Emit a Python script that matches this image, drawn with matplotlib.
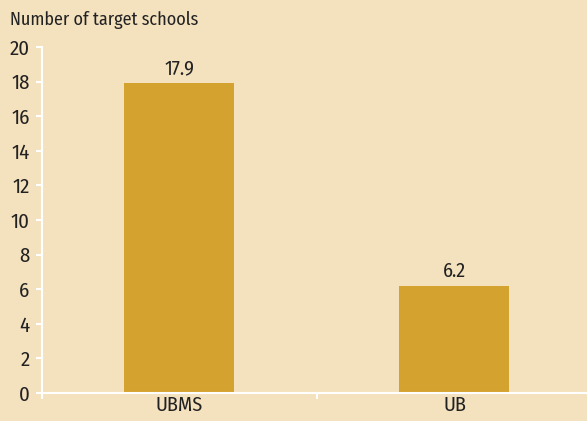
import matplotlib.pyplot as plt

categories = ["UBMS", "UB"]
values = [17.9, 6.2]
value_labels = ["17.9", "6.2"]
y_ticks = [0, 2, 4, 6, 8, 10, 12, 14, 16, 18, 20]

plt.rcParams["font.family"] = ["Fira Sans Condensed", "DejaVu Sans"]

bg = "#F4E1BE"
bar_color = "#D4A22F"
txt = "#222222"

fig = plt.figure(figsize=(5.87, 4.21), dpi=100, facecolor=bg)
ax = fig.add_axes([42 / 587, (421 - 393) / 421, 550 / 587, 346 / 421])
ax.set_facecolor(bg)

pos = [0.5, 1.5]
ax.bar(pos, values, width=0.4, color=bar_color)
for p, v, lab in zip(pos, values, value_labels):
    ax.text(p, v + 0.3, lab, ha="center", va="bottom", fontsize=14.5, color=txt)

ax.set_xlim(0, 2)
ax.set_ylim(0, 20)
ax.set_yticks(y_ticks)
ax.set_yticklabels([str(t) for t in y_ticks], fontsize=15, color=txt)
ax.set_xticks([0, 1, 2])
ax.set_xticklabels([])
ax.set_xticks(pos, minor=True)
ax.set_xticklabels(categories, minor=True, fontsize=14.5, color=txt)
ax.tick_params(axis="x", which="minor", length=0, pad=2)
ax.tick_params(axis="x", which="major", length=4, width=1.5, color="white")
ax.tick_params(axis="y", length=4, width=1.5, color="white", pad=5)

for s in ["top", "right"]:
    ax.spines[s].set_visible(False)
for s in ["left", "bottom"]:
    ax.spines[s].set_color("white")
    ax.spines[s].set_linewidth(1.5)

fig.text(10 / 587, 1 - 20 / 421, "Number of target schools", fontsize=13,
         color=txt, ha="left", va="center")

fig.savefig("out.png", dpi=100, facecolor=bg)
